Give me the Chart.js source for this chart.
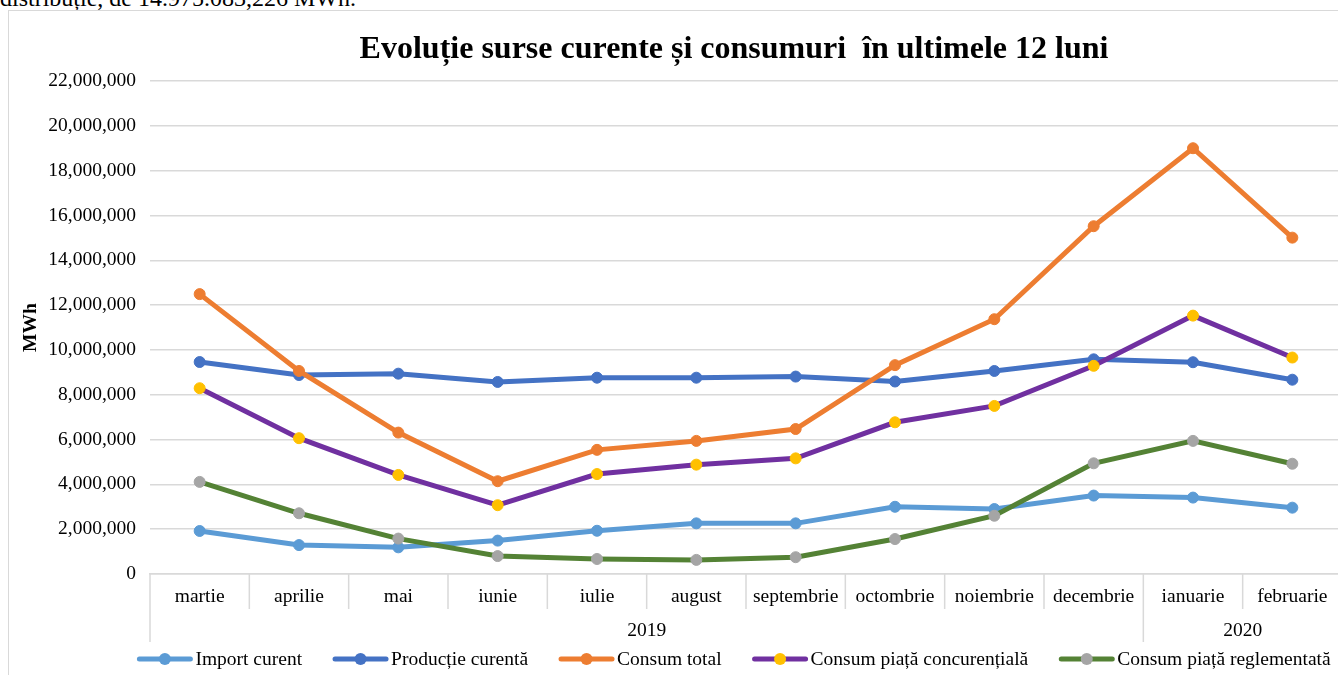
<!DOCTYPE html>
<html>
<head>
<meta charset="utf-8">
<script src="https://cdn.jsdelivr.net/npm/chart.js@4"></script>
<style>
  html, body { margin: 0; padding: 0; background: #fff; overflow: hidden; width: 1338px; height: 675px; }
  #topText { position: absolute; left: 0; top: -15px; font: 24px "Liberation Serif", serif; color: #000; white-space: nowrap; }
  #frame { position: absolute; left: 8px; top: 10px; width: 1450px; height: 700px; border: 1px solid #d9d9d9; }
  #title { position: absolute; left: 0; width: 1450px; top: 18px; text-align: center; font: bold 32px "Liberation Serif", serif; color: #000; }
  canvas { position: absolute; left: 0; top: 0; }
</style>
</head>
<body>
<div id="topText">distribuție, de  14.975.083,226 MWh.</div>
<div id="frame">
  <canvas id="chart" width="1450" height="675"></canvas>
  <div id="title">Evoluție surse curente și consumuri&nbsp; în ultimele 12 luni</div>
</div>
<script>
// ── Data ──
const months = ['martie', 'aprilie', 'mai', 'iunie', 'iulie', 'august', 'septembrie',
                'octombrie', 'noiembrie', 'decembrie', 'ianuarie', 'februarie'];
const monthYears = ['2019', '2019', '2019', '2019', '2019', '2019', '2019',
                    '2019', '2019', '2019', '2020', '2020'];
const yTicks = [0, 2000000, 4000000, 6000000, 8000000, 10000000, 12000000,
                14000000, 16000000, 18000000, 20000000, 22000000];

const importCurent   = [1920000, 1290000, 1190000, 1490000, 1930000, 2260000, 2260000, 3000000, 2900000, 3500000, 3410000, 2960000];
const productie      = [9460000, 8880000, 8940000, 8570000, 8760000, 8760000, 8810000, 8590000, 9060000, 9580000, 9450000, 8670000];
const consumTotal    = [12490000, 9060000, 6310000, 4140000, 5540000, 5940000, 6470000, 9320000, 11370000, 15520000, 19000000, 15010000];
const consumConcur   = [8290000, 6060000, 4420000, 3070000, 4460000, 4880000, 5160000, 6770000, 7500000, 9290000, 11530000, 9660000];
const consumReglem   = [4110000, 2710000, 1580000, 800000, 670000, 630000, 750000, 1560000, 2600000, 4940000, 5940000, 4920000];

const seriesNames = ['Import curent', 'Producție curentă', 'Consum total',
                     'Consum piață concurențială', 'Consum piață reglementată'];

//  Styles ──
const FONT = '"Liberation Serif", "Times New Roman", serif';
const FONT_SIZE = 19.5;
const GRID = '#d9d9d9';
const lineColors   = ['#5b9bd5', '#4472c4', '#ed7d31', '#7030a0', '#548235'];
const markerColors = ['#5b9bd5', '#4472c4', '#ed7d31', '#ffc000', '#a5a5a5'];
const seriesData   = [importCurent, productie, consumTotal, consumConcur, consumReglem];

const fmt = v => v.toLocaleString('en-US');

//  Plugin: category separators + year row 
const categoryAxisPlugin = {
  id: 'categoryAxis',
  afterDraw(chart) {
    const { ctx, chartArea } = chart;
    const x = chart.scales.x;
    const half = (x.getPixelForValue(1) - x.getPixelForValue(0)) / 2;
    const bottom = chartArea.bottom;
    ctx.save();
    ctx.strokeStyle = GRID;
    ctx.lineWidth = 1.5;
    for (let i = 0; i <= months.length; i++) {
      const px = x.getPixelForValue(i) - half;
      const yearEdge = i === 0 || i === months.length || monthYears[i] !== monthYears[i - 1];
      ctx.beginPath();
      ctx.moveTo(px, bottom);
      ctx.lineTo(px, bottom + (yearEdge ? 68 : 35));
      ctx.stroke();
    }
    // year labels centred under their months
    ctx.fillStyle = '#000';
    ctx.font = FONT_SIZE + 'px ' + FONT;
    ctx.textAlign = 'center';
    ctx.textBaseline = 'middle';
    let start = 0;
    for (let i = 1; i <= months.length; i++) {
      if (i === months.length || monthYears[i] !== monthYears[start]) {
        const left = x.getPixelForValue(start) - half;
        const right = x.getPixelForValue(i - 1) + half;
        ctx.fillText(monthYears[start], (left + right) / 2, bottom + 57);
        start = i;
      }
    }
    ctx.restore();
  }
};

//  Plugin: Excel-style legend 
const legendPlugin = {
  id: 'excelLegend',
  afterDraw(chart) {
    const { ctx } = chart;
    const lineLen = 55, gapText = 3, gapItem = 31;
    ctx.save();
    ctx.font = FONT_SIZE + 'px ' + FONT;
    const items = chart.data.datasets.map(ds => ({
      ds, w: lineLen + gapText + ctx.measureText(ds.label).width
    }));
    const total = items.reduce((s, it) => s + it.w, 0) + gapItem * (items.length - 1);
    let cx = chart.width / 2 - total / 2;
    const cy = 648;
    items.forEach(({ ds, w }) => {
      ctx.strokeStyle = ds.borderColor;
      ctx.lineWidth = 5;
      ctx.lineCap = 'round';
      ctx.beginPath();
      ctx.moveTo(cx + 2, cy);
      ctx.lineTo(cx + lineLen - 2, cy);
      ctx.stroke();
      ctx.fillStyle = ds.pointBackgroundColor;
      ctx.beginPath();
      ctx.arc(cx + lineLen / 2, cy, 6, 0, Math.PI * 2);
      ctx.fill();
      ctx.fillStyle = '#000';
      ctx.textAlign = 'left';
      ctx.textBaseline = 'middle';
      ctx.fillText(ds.label, cx + lineLen + gapText, cy + 1);
      cx += w + gapItem;
    });
    ctx.restore();
  }
};

//  Chart ─
new Chart(document.getElementById('chart'), {
  type: 'line',
  data: {
    labels: months,
    datasets: seriesData.map((data, i) => ({
      label: seriesNames[i],
      data,
      borderColor: lineColors[i],
      backgroundColor: lineColors[i],
      pointBackgroundColor: markerColors[i],
      pointBorderColor: markerColors[i],
      pointBorderWidth: 1,
      pointRadius: 5.5,
      borderWidth: 5,
      tension: 0,
      order: seriesData.length - i
    }))
  },
  options: {
    responsive: false,
    animation: false,
    layout: { padding: { top: 70, right: 117, bottom: 0, left: 0 } },
    plugins: {
      legend: { display: false },
      title: { display: false },
      tooltip: { enabled: false }
    },
    scales: {
      x: {
        offset: true,
        grid: { display: false, drawTicks: false },
        border: { display: true, color: GRID, width: 1.5 },
        ticks: { color: '#000', font: { family: FONT, size: FONT_SIZE }, padding: 11, maxRotation: 0, autoSkip: false },
        afterFit: s => { s.height = 112; }
      },
      y: {
        min: 0,
        max: 22000000,
        afterBuildTicks: s => { s.ticks = yTicks.map(v => ({ value: v })); },
        grid: { color: GRID, lineWidth: 1.5, drawTicks: false },
        border: { display: false },
        ticks: { color: '#000', font: { family: FONT, size: FONT_SIZE }, padding: 14, callback: v => fmt(v) },
        title: { display: true, text: 'MWh', color: '#000', font: { family: FONT, size: FONT_SIZE, weight: 'bold' }, padding: { top: 10, bottom: 0 } },
        afterFit: s => { s.width = 141; }
      }
    }
  },
  plugins: [categoryAxisPlugin, legendPlugin]
});
</script>
</body>
</html>
